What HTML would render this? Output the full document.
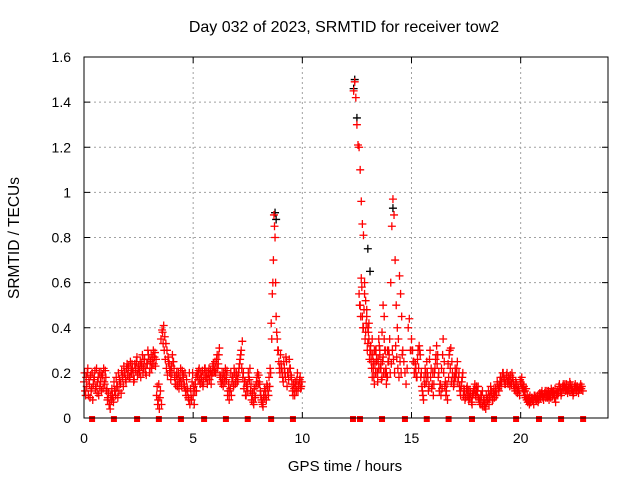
<!DOCTYPE html>
<html><head><meta charset="utf-8"><style>
body{margin:0;background:#fff}
svg{display:block;font-family:"Liberation Sans",sans-serif}
</style></head><body>
<svg id="chart" width="640" height="480">
<text x="344" y="32" text-anchor="middle" font-size="16">Day 032 of 2023, SRMTID for receiver tow2</text>
<text transform="translate(19,238) rotate(-90)" text-anchor="middle" font-size="15.5">SRMTID / TECUs</text>
<text x="345" y="471" text-anchor="middle" font-size="15">GPS time / hours</text>
<g id="grid"></g><g id="ticks"></g><g id="marks"></g>
<rect x="84" y="57" width="524" height="361" fill="none" stroke="#000"/>
</svg>
<script>
const xTicks=[0,5,10,15,20];
const yTicks=[0,0.2,0.4,0.6,0.8,1,1.2,1.4,1.6];
const yTickLabels=["0","0.2","0.4","0.6","0.8","1","1.2","1.4","1.6"];
const segStep=0.05;
const segStarts=[0,1,2,3,4,5,6,7,8,9,12.35,12.6,15,16,17,18,19,20,21,22];
const segValues=[
[0.16,0.12,0.18,0.2,0.1,0.15,0.19,0.13,0.08,0.17,0.21,0.14,0.11,0.18,0.2,0.16,0.12,0.19,0.22,0.15],
[0.18,0.13,0.09,0.06,0.04,0.08,0.1,0.07,0.12,0.1,0.14,0.09,0.12,0.16,0.11,0.19,0.14,0.2,0.17,0.22],
[0.19,0.23,0.18,0.21,0.24,0.2,0.17,0.22,0.25,0.19,0.23,0.21,0.18,0.24,0.2,0.26,0.22,0.19,0.24,0.28],
[0.2,0.25,0.22,0.27,0.24,0.29,0.26,0.14,0.08,0.04,0.12,0.06,0.38,0.41,0.36,0.33,0.3,0.27,0.24,0.21],
[0.23,0.28,0.25,0.18,0.15,0.2,0.17,0.13,0.18,0.16,0.21,0.19,0.14,0.12,0.17,0.12,0.08,0.06,0.1,0.16],
[0.1,0.06,0.15,0.12,0.19,0.21,0.17,0.2,0.16,0.14,0.19,0.22,0.18,0.15,0.2,0.17,0.21,0.19,0.23,0.2],
[0.25,0.22,0.28,0.24,0.31,0.18,0.15,0.17,0.2,0.16,0.19,0.21,0.12,0.08,0.13,0.1,0.18,0.14,0.2,0.16],
[0.19,0.17,0.22,0.26,0.3,0.34,0.2,0.16,0.1,0.14,0.12,0.18,0.22,0.15,0.1,0.07,0.13,0.09,0.16,0.2],
[0.19,0.15,0.1,0.07,0.05,0.09,0.12,0.08,0.14,0.1,0.14,0.2,0.35,0.6,0.9,0.8,0.45,0.35,0.3,0.22],
[0.28,0.22,0.18,0.25,0.2,0.27,0.14,0.2,0.26,0.22,0.18,0.12,0.15,0.1,0.14,0.17,0.12,0.15,0.18,0.14],
[1.45,1.49,1.42,1.3,1.21,1.2,1.1,0.96,0.86,0.81,0.6,0.52,0.45,0.4,0.35,0.3,0.25,0.18,0.22,0.15,0.3,0.25,0.2,0.35,0.28,0.22,0.38,0.5,0.45,0.3,0.2,0.18,0.3,0.35,0.6,0.85,0.97,0.9,0.7,0.5,0.4,0.35,0.63,0.55,0.45,0.3,0.25,0.2,0.15,0.22,0.4,0.44,0.3],
[0.55,0.5,0.62,0.45,0.4,0.55,0.38,0.48,0.33,0.42,0.3,0.28,0.35,0.25,0.3,0.2,0.26,0.16,0.22,0.3,0.24,0.18,0.27,0.35,0.2,0.15,0.3,0.25],
[0.35,0.3,0.25,0.2,0.22,0.18,0.3,0.32,0.28,0.2,0.12,0.08,0.15,0.2,0.25,0.18,0.14,0.3,0.22,0.15],
[0.1,0.2,0.26,0.32,0.28,0.2,0.15,0.1,0.13,0.35,0.25,0.16,0.12,0.08,0.18,0.3,0.31,0.25,0.18,0.15],
[0.22,0.2,0.25,0.18,0.14,0.1,0.16,0.2,0.13,0.08,0.1,0.14,0.12,0.09,0.11,0.07,0.1,0.12,0.15,0.12],
[0.1,0.14,0.08,0.06,0.1,0.12,0.08,0.05,0.04,0.07,0.09,0.06,0.1,0.12,0.08,0.11,0.09,0.13,0.1,0.15],
[0.12,0.16,0.14,0.18,0.2,0.17,0.15,0.19,0.16,0.18,0.14,0.16,0.2,0.17,0.14,0.12,0.15,0.11,0.13,0.1],
[0.16,0.18,0.15,0.14,0.12,0.13,0.1,0.08,0.06,0.07,0.09,0.08,0.06,0.1,0.08,0.09,0.07,0.1,0.09,0.11],
[0.1,0.08,0.11,0.09,0.12,0.1,0.08,0.11,0.13,0.1,0.12,0.09,0.07,0.11,0.1,0.14,0.12,0.1,0.13,0.15],
[0.14,0.12,0.15,0.11,0.13,0.16,0.12,0.14,0.1,0.13,0.15,0.12,0.14,0.11,0.13,0.15,0.14,0.12]
];
const seg2Starts=[0.025,2.025,4.025,6.025,8.025,12.625,15.025,17.025,19.025,21.025];
const seg2Values=[
[0.2,0.1,0.14,0.22,0.17,0.09,0.12,0.2,0.15,0.18,0.13,0.22,0.16,0.1,0.14,0.2,0.18,0.13,0.16,0.21,0.12,0.08,0.11,0.06,0.1,0.13,0.09,0.16,0.12,0.18,0.14,0.2,0.17,0.15,0.21,0.18,0.23,0.2,0.16,0.24],
[0.22,0.18,0.25,0.2,0.22,0.16,0.24,0.21,0.27,0.22,0.2,0.25,0.23,0.28,0.22,0.26,0.2,0.24,0.3,0.26,0.22,0.28,0.24,0.3,0.27,0.23,0.1,0.06,0.15,0.09,0.35,0.39,0.33,0.3,0.26,0.22,0.19,0.25,0.2,0.17],
[0.2,0.25,0.22,0.15,0.19,0.14,0.2,0.16,0.22,0.14,0.18,0.15,0.2,0.1,0.13,0.09,0.2,0.13,0.08,0.2,0.14,0.12,0.18,0.2,0.17,0.22,0.15,0.18,0.21,0.16,0.22,0.18,0.2,0.17,0.22,0.19,0.15,0.2,0.24,0.21],
[0.2,0.26,0.22,0.28,0.19,0.16,0.2,0.14,0.18,0.22,0.17,0.1,0.15,0.12,0.2,0.16,0.18,0.22,0.15,0.2,0.16,0.2,0.24,0.28,0.22,0.18,0.13,0.16,0.1,0.15,0.2,0.17,0.12,0.08,0.11,0.06,0.1,0.14,0.18,0.15],
[0.16,0.12,0.08,0.06,0.1,0.13,0.1,0.15,0.12,0.18,0.22,0.42,0.55,0.7,0.85,0.6,0.38,0.3,0.25,0.2,0.24,0.2,0.16,0.22,0.18,0.25,0.2,0.17,0.22,0.19,0.15,0.1,0.13,0.16,0.12,0.2,0.14,0.17,0.13,0.16],
[0.5,0.45,0.58,0.4,0.48,0.35,0.42,0.3,0.38,0.26,0.32,0.22,0.28,0.18,0.24,0.3,0.2,0.26,0.32,0.22,0.17,0.25,0.2,0.3,0.22,0.18,0.25,0.28,0.2,0.24,0.3,0.26,0.2,0.32,0.27,0.22,0.18,0.25,0.2,0.28],
[0.3,0.25,0.2,0.24,0.18,0.26,0.22,0.3,0.18,0.14,0.1,0.18,0.22,0.16,0.2,0.12,0.26,0.18,0.13,0.2,0.15,0.22,0.28,0.24,0.18,0.12,0.15,0.22,0.28,0.2,0.14,0.1,0.15,0.24,0.28,0.22,0.16,0.2,0.14,0.18],
[0.18,0.22,0.16,0.2,0.12,0.14,0.18,0.1,0.12,0.09,0.13,0.1,0.08,0.12,0.09,0.06,0.11,0.13,0.1,0.14,0.12,0.09,0.07,0.1,0.06,0.05,0.08,0.06,0.1,0.08,0.12,0.09,0.14,0.11,0.08,0.13,0.1,0.12,0.16,0.13],
[0.14,0.18,0.16,0.2,0.18,0.15,0.17,0.2,0.15,0.17,0.19,0.15,0.18,0.15,0.13,0.16,0.12,0.14,0.12,0.17,0.15,0.13,0.12,0.1,0.09,0.08,0.07,0.09,0.1,0.07,0.09,0.08,0.1,0.09,0.08,0.1,0.08,0.11,0.1,0.12],
[0.09,0.1,0.12,0.1,0.09,0.12,0.1,0.09,0.12,0.11,0.1,0.13,0.1,0.12,0.11,0.15,0.13,0.11,0.14,0.13,0.15,0.13,0.12,0.14,0.12,0.15,0.13,0.12,0.11,0.14,0.13,0.14,0.12,0.13,0.14,0.13]
];
const blackTimes=[8.75,8.8,12.35,12.4,12.5,13.0,13.1,14.15];
const blackValues=[0.91,0.88,1.46,1.5,1.33,0.75,0.65,0.93];
const gapTimes=[0.37,1.37,2.43,3.43,4.44,5.5,6.5,7.5,8.57,9.57,12.32,12.64,13.65,14.7,15.7,16.7,17.77,18.78,19.79,20.84,21.85,22.86];

const NS="http://www.w3.org/2000/svg";
const X=t=>84+t*(524/24);
const Y=v=>418-v*(361/1.6);
function mk(tag,attrs,parent){const e=document.createElementNS(NS,tag);for(const k in attrs)e.setAttribute(k,attrs[k]);parent.appendChild(e);return e;}
const grid=document.getElementById('grid'),ticks=document.getElementById('ticks'),marks=document.getElementById('marks');
xTicks.forEach(t=>{
  const x=X(t);
  if(t>0){const g=mk('line',{x1:x,x2:x,y1:57,y2:418,stroke:'#a0a0a0','stroke-dasharray':'2,3'},grid);
  
  }
  mk('line',{x1:x,x2:x,y1:418,y2:412,stroke:'#000'},ticks);
  mk('line',{x1:x,x2:x,y1:57,y2:63,stroke:'#000'},ticks);
  const l=mk('text',{x:x,y:443,'text-anchor':'middle','font-size':'14'},ticks);l.textContent=String(t);
  
  
});
yTicks.forEach((v,i)=>{
  const y=Y(v);
  if(v>0&&v<1.6){const g=mk('line',{x1:84,x2:608,y1:y,y2:y,stroke:'#a0a0a0','stroke-dasharray':'2,3'},grid);
  
  }
  mk('line',{x1:84,x2:90,y1:y,y2:y,stroke:'#000'},ticks);
  mk('line',{x1:602,x2:608,y1:y,y2:y,stroke:'#000'},ticks);
  const l=mk('text',{x:71,y:y+5,'text-anchor':'end','font-size':'14'},ticks);l.textContent=yTickLabels[i];
  
  
});
function plus(t,v,col,name){
  const x=X(t),y=Y(v);
  const p=mk('path',{d:`M${x-4},${y}H${x+4}M${x},${y-4}V${y+4}`,stroke:col,'stroke-width':'1.3',fill:'none'},marks);
  
  
}
blackTimes.forEach((t,i)=>plus(t,blackValues[i],'#000','black-point'));
segStarts.forEach((s,si)=>{
  segValues[si].forEach((v,j)=>plus(s+j*segStep,v,'#f00','srmtid-point'));
});
seg2Starts.forEach((s,si)=>{
  seg2Values[si].forEach((v,j)=>plus(s+j*segStep,v,'#f00','srmtid-point'));
});
gapTimes.forEach(t=>{
  const r=mk('rect',{x:X(t)-3,y:416,width:6,height:6,fill:'#f00'},marks);
  
  
});
</script>
</body></html>
